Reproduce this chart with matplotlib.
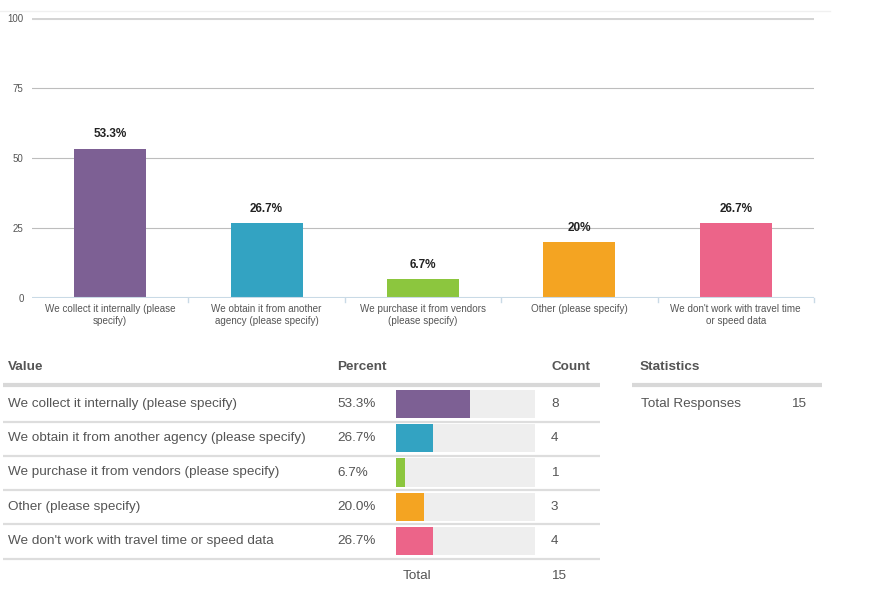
import numpy as np
import matplotlib
matplotlib.use("Agg")
import matplotlib.pyplot as plt

plt.rcParams['font.family'] = ['Liberation Sans', 'DejaVu Sans']

# data
categories = ["We collect it internally (please\nspecify)",
              "We obtain it from another\nagency (please specify)",
              "We purchase it from vendors\n(please specify)",
              "Other (please specify)",
              "We don't work with travel time\nor speed data"]
row_labels = ["We collect it internally (please specify)",
              "We obtain it from another agency (please specify)",
              "We purchase it from vendors (please specify)",
              "Other (please specify)",
              "We don't work with travel time or speed data"]
percents = [53.3, 26.7, 6.7, 20.0, 26.7]
bar_labels = ["53.3%", "26.7%", "6.7%", "20%", "26.7%"]
counts = [8, 4, 1, 3, 4]
total = 15
colors = ["#7D6094", "#33A3C2", "#8CC63E", "#F4A422", "#EC6489"]
yticks = [0, 25, 50, 75, 100]

W, H = 888, 592
fig = plt.figure(figsize=(W / 100, H / 100), dpi=100)
txt = "#555555"

def box(x0, y0, x1, y1):
    # pixel box (top-left origin) -> figure fraction
    return [x0 / W, 1 - y1 / H, (x1 - x0) / W, (y1 - y0) / H]

# ---- top bar chart ----
ax = fig.add_axes(box(32, 18, 814, 298))
x = np.arange(len(percents))
ax.bar(x, percents, width=0.46, color=colors, zorder=3)
ax.set_xlim(-0.5, 4.5)
ax.set_ylim(0, 100)
for s in ax.spines.values():
    s.set_visible(False)
for v in yticks[1:]:
    ax.axhline(v, color="#D4D4D4" if v == 100 else "#BDBDBD",
               lw=2.2 if v == 100 else 0.8, zorder=1)
ax.axhline(0, color="#C9DAE6", lw=1.5, zorder=4)
ax.set_yticks(yticks)
ax.set_yticklabels([str(v) for v in yticks], fontsize=7, color=txt)
ax.tick_params(axis='y', length=0, pad=6)
ax.set_xticks(x)
ax.set_xticklabels(categories, fontsize=7.1, color=txt, linespacing=1.25)
ax.tick_params(axis='x', length=0, pad=4)
for b in np.arange(0.5, 5, 1):
    ax.plot([b, b], [0, -1.5], color="#C9DAE6", lw=1, clip_on=False)
for xi, p, lab in zip(x, percents, bar_labels):
    ax.text(xi, p + 3, lab, ha="center", va="bottom", fontsize=8.5,
            fontweight="bold", color="#222222")

# ---- table ----
ov = fig.add_axes([0, 0, 1, 1])
ov.set_xlim(0, W)
ov.set_ylim(H, 0)
ov.axis("off")
ov.plot([0, 830], [11, 11], color="#F0F0F0", lw=1)

hdr = dict(fontsize=9.7, fontweight="bold", color="#555555", va="center")
ov.text(8, 367, "Value", **hdr)
ov.text(337, 367, "Percent", **hdr)
ov.text(551, 367, "Count", **hdr)
ov.text(640, 367, "Statistics", **hdr)
ov.plot([3, 600], [385, 385], color="#D8D8D8", lw=3, solid_capstyle="butt")
ov.plot([632, 822], [385, 385], color="#D8D8D8", lw=3, solid_capstyle="butt")

row_y = 404 + 34.25 * np.arange(5)
cell = dict(fontsize=9.7, color=txt, va="center")
for yy, lab, p, c in zip(row_y, row_labels, percents, counts):
    ov.text(8, yy, lab, **cell)
    ov.text(337, yy, f"{p:.1f}%", **cell)
    ov.text(551, yy, str(c), **cell)
    ov.plot([3, 600], [yy + 17.5, yy + 17.5], color="#DDDDDD", lw=1.6,
            solid_capstyle="butt")
ov.text(403, 576, "Total", **cell)
ov.text(551, 576, str(total), **cell)
ov.text(641, 404, "Total Responses", **cell)
ov.text(791, 404, str(total), **cell)

axb = fig.add_axes(box(396, 387, 535, 558))
rows = np.arange(5)
axb.barh(rows, [100] * 5, height=0.82, color="#EEEEEE")
axb.barh(rows, percents, height=0.82, color=colors)
axb.set_xlim(0, 100)
axb.set_ylim(4.5, -0.5)
axb.axis("off")

fig.savefig("out.png", dpi=100)
